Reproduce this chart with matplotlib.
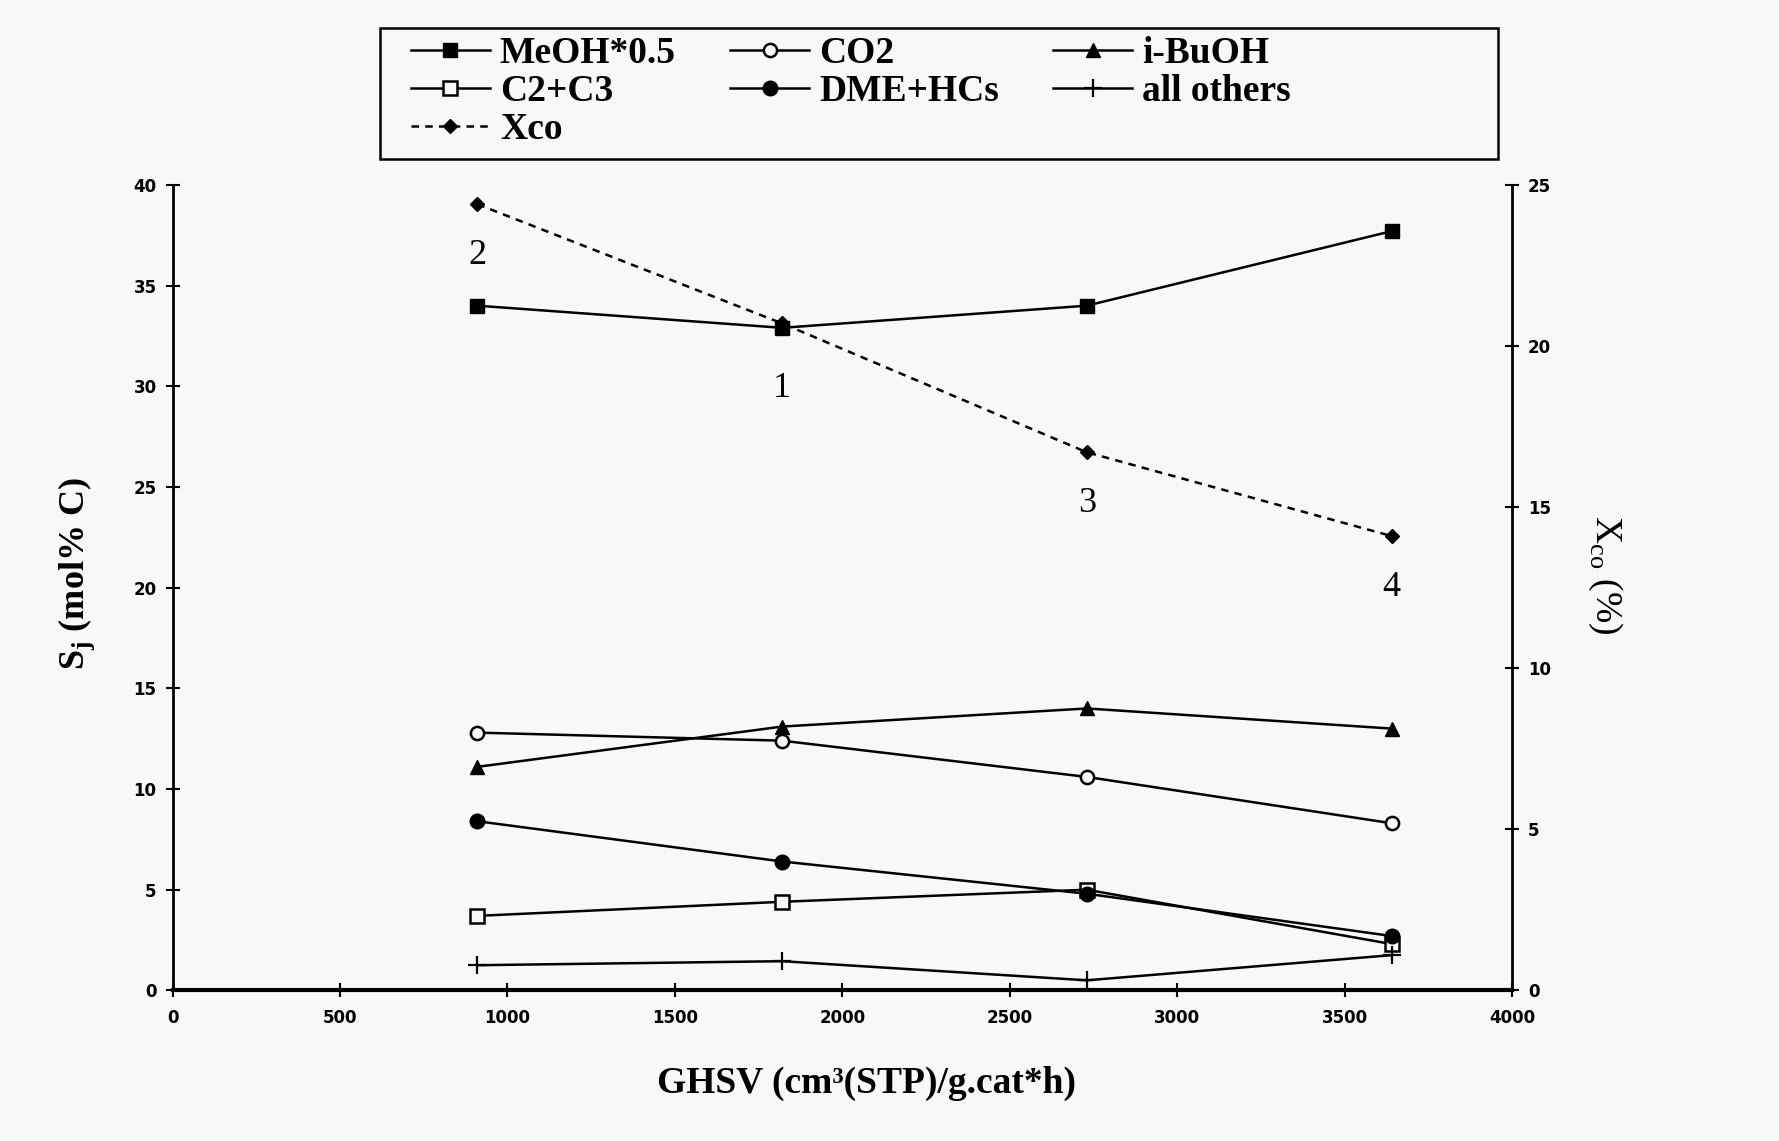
import numpy as np
import matplotlib
matplotlib.use("Agg")
import matplotlib.pyplot as plt
from matplotlib.patches import Rectangle

# data
ghsv = [910, 1820, 2730, 3640]
meoh_half = [34.0, 32.9, 34.0, 37.7]
co2 = [12.8, 12.4, 10.6, 8.3]
ibuoh = [11.1, 13.1, 14.0, 13.0]
c2c3 = [3.7, 4.4, 5.0, 2.3]
dme_hcs = [8.4, 6.4, 4.8, 2.7]
others = [1.25, 1.45, 0.5, 1.75]
xco = [24.4, 20.7, 16.7, 14.1]
run_labels = ["2", "1", "3", "4"]
run_label_y = [36.5, 29.9, 24.2, 20.0]

xticks = [0, 500, 1000, 1500, 2000, 2500, 3000, 3500, 4000]
yticks_left = [0, 5, 10, 15, 20, 25, 30, 35, 40]
yticks_right = [0, 5, 10, 15, 20, 25]

plt.rcParams['mathtext.fontset'] = 'custom'
plt.rcParams['mathtext.rm'] = 'Liberation Serif'
plt.rcParams['mathtext.bf'] = 'Liberation Serif:bold'

bg = '#f8f8f8'
fig = plt.figure(figsize=(17.79, 11.41), dpi=100, facecolor=bg)
ax = fig.add_axes([0.097, 0.132, 0.753, 0.706], facecolor=bg)
ax2 = ax.twinx()

lw = 1.8
ms = 9.5
h_meoh, = ax.plot(ghsv, meoh_half, '-', color='k', lw=lw, marker='s', ms=ms)
h_co2, = ax.plot(ghsv, co2, '-', color='k', lw=lw, marker='o', ms=ms, mfc=bg, mew=1.8)
h_ibu, = ax.plot(ghsv, ibuoh, '-', color='k', lw=lw, marker='^', ms=ms + 1)
h_c23, = ax.plot(ghsv, c2c3, '-', color='k', lw=lw, marker='s', ms=ms, mfc=bg, mew=1.8)
h_dme, = ax.plot(ghsv, dme_hcs, '-', color='k', lw=lw, marker='o', ms=ms + 1)
h_oth, = ax.plot(ghsv, others, '-', color='k', lw=lw, marker='+', ms=ms + 3, mew=1.6)
h_xco, = ax2.plot(ghsv, xco, '--', color='k', lw=1.8, marker='D', ms=7, dashes=(3, 2.5))

for x, y, t in zip(ghsv, run_label_y, run_labels):
    ax.text(x, y, t, ha='center', va='center', fontsize=26, family='Liberation Serif')

ax.set_xlim(0, 4000)
ax.set_ylim(0, 40)
ax2.set_ylim(0, 25)
ax.set_xticks(xticks)
ax.set_yticks(yticks_left)
ax2.set_yticks(yticks_right)

for a in (ax, ax2):
    a.spines['top'].set_visible(False)
    for s in a.spines.values():
        s.set_linewidth(2)
ax.spines['right'].set_visible(False)
ax2.spines['left'].set_visible(False)
ax2.spines['bottom'].set_visible(False)
ax.spines['bottom'].set_linewidth(3)

tick_font = matplotlib.font_manager.FontProperties(family='DejaVu Sans', weight='bold', size=12)
ax.tick_params(axis='both', direction='inout', length=10, width=1.5, pad=6.5)
ax.tick_params(axis='x', pad=8.5)
ax2.tick_params(axis='y', direction='inout', length=10, width=1.5, pad=6.5)
for lab in ax.get_xticklabels() + ax.get_yticklabels() + ax2.get_yticklabels():
    lab.set_fontproperties(tick_font)

ax.set_xlabel('GHSV (cm³(STP)/g.cat*h)', fontsize=27, family='Liberation Serif',
              weight='bold', va='center')
ax.xaxis.set_label_coords(0.5177, -0.1155)
ax.set_ylabel(r'S$_\mathbf{j}$ (mol% C)', fontsize=26, family='Liberation Serif',
              weight='bold', va='center')
ax.yaxis.set_label_coords(-0.0713, 0.518)
ax2.set_ylabel(r'X$_\mathrm{co}$ (%)', fontsize=27, family='Liberation Serif',
               rotation=270, va='center')
ax2.yaxis.set_label_coords(1.0694, 0.516)

handles = [h_meoh, h_c23, h_xco, h_co2, h_dme, h_ibu, h_oth]
labels = ['MeOH*0.5', 'C2+C3', 'Xco', 'CO2', 'DME+HCs', 'i-BuOH', 'all others']
leg = fig.legend(handles, labels, ncol=3, loc='upper left',
                 bbox_to_anchor=(411 / 1779, 1 - 36 / 1141),
                 prop=dict(family='Liberation Serif', size=27, weight='bold'),
                 frameon=False, handlelength=2.1, handletextpad=0.27,
                 labelspacing=0.08, borderaxespad=0, borderpad=0,
                 columnspacing=1.45)
fig.add_artist(Rectangle((380 / 1779, 1 - 159 / 1141), 1118 / 1779, 131 / 1141,
                         transform=fig.transFigure, fill=False, ec='k', lw=1.8))

fig.savefig('out.png', dpi=100, facecolor=bg)
